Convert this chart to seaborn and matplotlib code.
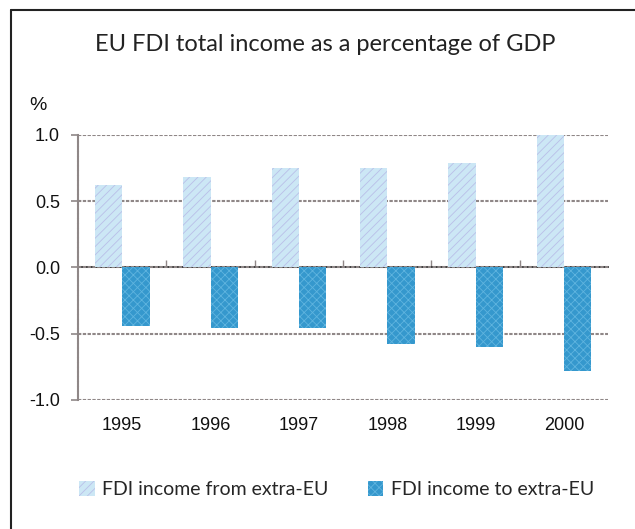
import numpy as np
import pandas as pd
import matplotlib
matplotlib.use("Agg")
import matplotlib.pyplot as plt
from matplotlib.lines import Line2D
import seaborn as sns

# data
years = ["1995", "1996", "1997", "1998", "1999", "2000"]
income_from = [0.62, 0.68, 0.75, 0.75, 0.79, 1.00]
income_to = [-0.44, -0.46, -0.46, -0.58, -0.60, -0.78]
series = ["FDI income from extra-EU", "FDI income to extra-EU"]

df = pd.DataFrame({
    "year": years * 2,
    "series": [series[0]] * len(years) + [series[1]] * len(years),
    "value": income_from + income_to,
})

sns.set_theme(style="white")
plt.rcParams["font.family"] = ["Liberation Sans", "DejaVu Sans"]
plt.rcParams["hatch.linewidth"] = 0.6

fill_cols = ["#cce7f5", "#3598cd"]
hatch_cols = ["#b9bfe8", "#5fb4df"]
hatches = ["////", "xxxx"]

fig = plt.figure(figsize=(6.35, 5.29), dpi=100)
ax = fig.add_axes([0.1228, 0.2439, 0.835, 0.501])

sns.barplot(data=df, x="year", y="value", hue="series", palette=fill_cols,
            width=0.62, gap=0, legend=False, ax=ax, saturation=1)

for cont, hc, h in zip(ax.containers, hatch_cols, hatches):
    for bar in cont:
        bar.set_hatch(h)
        bar.set_edgecolor(hc)
        bar.set_linewidth(0)

ax.set_ylim(-1.0, 1.0)
ax.set_xlim(-0.5, len(years) - 0.5)
ax.set_yticks([-1.0, -0.5, 0.0, 0.5, 1.0])
ax.set_yticklabels(["-1.0", "-0.5", "0.0", "0.5", "1.0"])
ax.set_xlabel("")
ax.set_ylabel("")

grid_col = "#8f8787"
dash = (0, (1.6, 0.7))
for y in [-1.0, -0.5, 0.0, 0.5, 1.0]:
    ax.axhline(y, color=grid_col, lw=1.5, ls=dash, zorder=0.5)

for s in ["top", "right", "bottom"]:
    ax.spines[s].set_visible(False)
ax.spines["left"].set_color(grid_col)
ax.spines["left"].set_linewidth(1.5)
ax.spines["left"].set_linestyle(dash)

ax.tick_params(axis="y", length=5, width=1.2, color=grid_col, labelsize=13,
               pad=8, left=True, labelcolor="#111111")
ax.tick_params(axis="x", length=0, labelsize=13, pad=12, labelcolor="#111111")

# small ticks on the zero line between the years
sec = ax.secondary_xaxis(0.5)
sec.set_xticks(np.arange(0.5, len(years) - 0.5, 1.0))
sec.set_xticklabels([])
sec.tick_params(axis="x", direction="out", length=5, width=1.0,
                color=grid_col)
sec.spines["bottom"].set_visible(False)

ax.text(-0.075, 1.08, "%", transform=ax.transAxes, fontsize=14,
        ha="center", va="bottom", color="#111111")

fig.text(0.512, 0.915, "EU FDI total income as a percentage of GDP",
         ha="center", va="center", fontsize=17, color="#222222",
         family=["Lato", "DejaVu Sans"])

handles = [plt.Rectangle((0, 0), 1, 1, facecolor=fill_cols[i],
                         edgecolor=hatch_cols[i], hatch=hatches[i], lw=0)
           for i in range(2)]
fig.legend(handles, series, loc="center", bbox_to_anchor=(0.53, 0.075),
           ncol=2, frameon=False, handlelength=0.8, handleheight=0.8,
           handletextpad=0.4, columnspacing=2.0,
           prop={"family": "Lato", "size": 14})

# frame lines at the left and top of the figure
fig.add_artist(Line2D([0.0173, 0.0173], [0.0, 0.981], transform=fig.transFigure,
                      color="#222222", lw=1.5))
fig.add_artist(Line2D([0.0173, 1.0], [0.981, 0.981], transform=fig.transFigure,
                      color="#222222", lw=1.5))

fig.savefig("out.png", dpi=100)
